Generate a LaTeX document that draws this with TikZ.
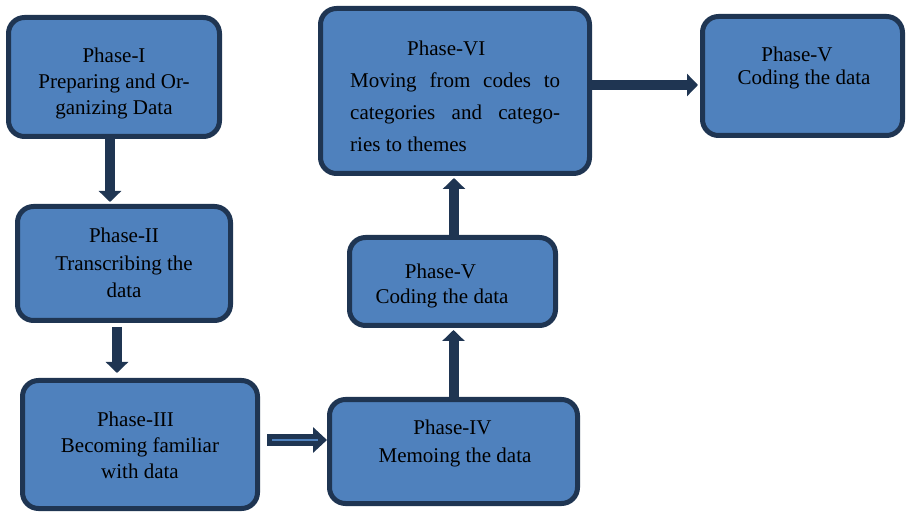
\documentclass[tikz,border=0pt]{standalone}
\usepackage{fontspec}
\setmainfont{Liberation Serif}
\usetikzlibrary{arrows.meta}
\definecolor{phasefill}{HTML}{4F81BD}
\definecolor{phaseline}{HTML}{1F3552}
% lines of a box label: [column spec]{baseline skip}{rows}
\newcommand{\phaselines}[3][c]{{\fontsize{21}{#2}\selectfont\setlength{\tabcolsep}{0pt}\begin{tabular}[t]{#1}#3\end{tabular}}}
\begin{document}
\begin{tikzpicture}[x=1pt,y=-1pt,
  phasebox/.style={draw=phaseline, fill=phasefill, line width=5pt,
    rounded corners=16pt, outer sep=2.5pt, inner sep=0pt},
  phasetext/.style={anchor=base, inner sep=0pt, text=black},
  fatarrow/.style={draw=phaseline, line width=10pt,
    -{Triangle[width=22pt,length=11pt]}},
  hollowarrow/.style={draw=phaseline, line width=12pt,
    -{Triangle[width=25pt,length=14pt]}},
]
\useasboundingbox (0,0) rectangle (906,513);

% boxes
\node[phasebox, minimum width=211pt, minimum height=119pt] (p1) at (114,77) {};
\node[phasebox, minimum width=213pt, minimum height=114pt] (p2) at (124,263.5) {};
\node[phasebox, minimum width=235pt, minimum height=128pt] (p3) at (140,444.5) {};
\node[phasebox, minimum width=248pt, minimum height=104pt] (p4) at (453.5,451.5) {};
\node[phasebox, minimum width=206pt, minimum height=88pt] (p5) at (452.5,281.5) {};
\node[phasebox, minimum width=269pt, minimum height=165pt] (p6) at (455,91) {};
\node[phasebox, minimum width=200pt, minimum height=119pt] (p7) at (802.5,76) {};

% labels
\node[phasetext] (t1) at (114,63) {\phaselines{26}{Phase-I\\Preparing and Or-\\ganizing Data}};
\node[phasetext] (t2) at (124,243) {\phaselines{27.5}{Phase-II\\Transcribing the\\data}};
\node[phasetext] (t3) at (140,426) {\phaselines{26}{Phase-III\hspace*{9pt}\\Becoming familiar\\with data}};
\node[phasetext] (t4) at (455,435) {\phaselines{28}{Phase-IV\hspace*{5pt}\\Memoing the data}};
\node[phasetext] (t5) at (442,279) {\phaselines{25}{Phase-V\hspace*{3pt}\\Coding the data}};
\node[phasetext, anchor=base west] (t6) at (350,56) {\phaselines[l]{32}{\hspace*{57pt}Phase-VI\\
  \makebox[210pt][s]{Moving from codes to}\\
  \makebox[210pt][s]{categories and catego-}\\
  ries to themes}};
\node[phasetext] (t7) at (804,62) {\phaselines{23}{Phase-V\hspace*{14pt}\\Coding the data}};

% connectors
\coordinate (a1) at ([xshift=-4pt]p1.south);
\draw[fatarrow, shorten >=2pt] (a1) -- (a1 |- p2.north);

\coordinate (a2) at ([xshift=-7pt]p2.south);
\draw[fatarrow, shorten <=4pt, shorten >=5pt] (a2) -- (a2 |- p3.north);

\coordinate (a3) at ([yshift=4.5pt]p3.east);
\draw[hollowarrow, shorten <=7pt] (a3) -- (a3 -| p4.west);
\draw[phasefill, line width=2pt] ([xshift=12pt]a3) -- ([xshift=58pt]a3);

\draw[fatarrow, shorten >=2pt] (p4.north) -- (p4.north |- p5.south);

\coordinate (a5) at ([xshift=1.5pt]p5.north);
\draw[fatarrow, shorten >=2pt] (a5) -- (a5 |- p6.south);

\coordinate (a6) at ([yshift=6pt]p6.east);
\draw[fatarrow, shorten >=2pt] (a6) -- (a6 -| p7.west);
\end{tikzpicture}
\end{document}
